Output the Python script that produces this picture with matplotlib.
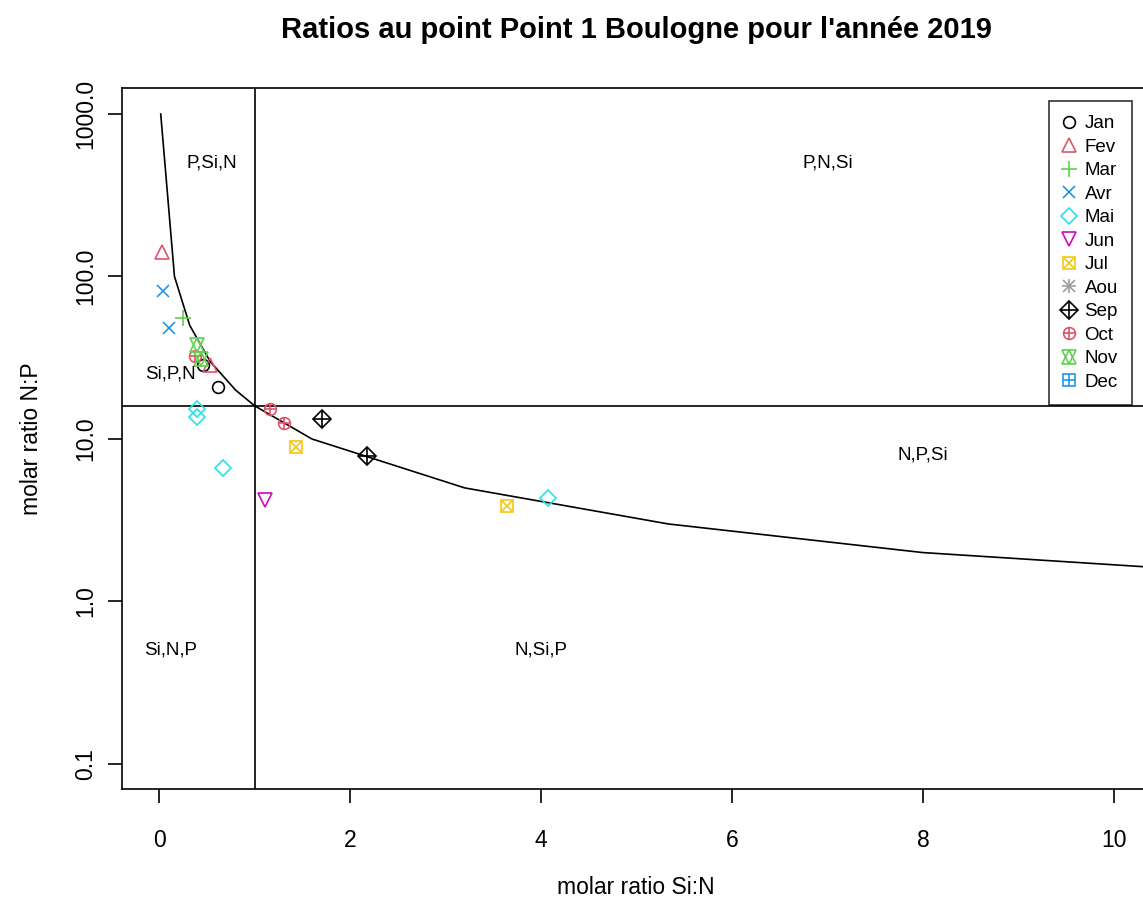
#!/usr/bin/env python3

"""
Ratios N:P vs Si:N, Point 1 Boulogne, 2019
"""

import matplotlib
matplotlib.use("Agg")
import matplotlib.pyplot as plt
from matplotlib.legend_handler import HandlerTuple

plt.rcParams['font.family'] = ['Liberation Sans', 'DejaVu Sans']

# data: Si:N (x) and N:P (y) per month
months = ["Jan", "Fev", "Mar", "Avr", "Mai", "Jun",
          "Jul", "Aou", "Sep", "Oct", "Nov", "Dec"]
jan_x, jan_y = [0.46, 0.62], [28.6, 20.9]
fev_x, fev_y = [0.03, 0.53], [142.0, 28.6]
mar_x, mar_y = [0.25], [55.7]
avr_x, avr_y = [0.04, 0.10], [81.6, 48.3]
mai_x, mai_y = [0.40, 0.40, 0.67, 4.07], [15.3, 13.7, 6.6, 4.33]
jun_x, jun_y = [1.11], [4.2]
jul_x, jul_y = [1.43, 3.64], [8.9, 3.86]
aou_x, aou_y = [], []
sep_x, sep_y = [1.71, 2.18], [13.3, 7.85]
oct_x, oct_y = [0.38, 1.16, 1.31], [32.5, 15.3, 12.6]
nov_x, nov_y = [0.40, 0.44], [37.9, 31.1]
dec_x, dec_y = [], []

all_x = [jan_x, fev_x, mar_x, avr_x, mai_x, jun_x,
         jul_x, aou_x, sep_x, oct_x, nov_x, dec_x]
all_y = [jan_y, fev_y, mar_y, avr_y, mai_y, jun_y,
         jul_y, aou_y, sep_y, oct_y, nov_y, dec_y]

# Redfield limits
redfield_np = 16
redfield_sin = 1
# Si:P = 16 curve, drawn through these N:P values
curve_np = [1000, 100, 50, 30, 20, 16, 10, 5, 3, 2, 1]
curve_sin = [16 / v for v in curve_np]

# region labels
zone_labels = ["P,Si,N", "P,N,Si", "Si,P,N", "N,P,Si", "Si,N,P", "N,Si,P"]
zone_x = [0.55, 7.0, 0.12, 8.0, 0.12, 4.0]
zone_y = [500, 500, 25, 8, 0.5, 0.5]

# R default palette + pch 1..12
palette = ["black", "#DF536B", "#61D04F", "#2297E6", "#28E2E5", "#CD0BBC",
           "#F5C710", "#9E9E9E"]
symbols = [
    [("o", 8.5)],
    [("^", 10)],
    [("+", 11)],
    [("x", 9)],
    [("D", 8)],
    [("v", 10)],
    [("s", 8), ("x", 7)],
    [("+", 10), ("x", 8)],
    [("D", 9), ("+", 11)],
    [("o", 8.5), ("+", 8.5)],
    [("^", 10), ("v", 10)],
    [("s", 8), ("+", 8)],
]

fig = plt.figure(figsize=(11.43, 9.05), dpi=100)
ax = fig.add_axes([0.1067, 0.1282, 0.8995, 0.7746])

ax.plot(curve_sin, curve_np, color="black", lw=1.2)
ax.axhline(redfield_np, color="black", lw=1.2)
ax.axvline(redfield_sin, color="black", lw=1.2)

handles = []
for i, m in enumerate(months):
    col = palette[i % 8]
    parts = []
    for mk, ms in symbols[i]:
        h, = ax.plot(all_x[i], all_y[i], ls="none", marker=mk, ms=ms,
                     mfc="none", mec=col, mew=1.2)
        parts.append(h)
    handles.append(tuple(parts))

for t, x, y in zip(zone_labels, zone_x, zone_y):
    ax.text(x, y, t, fontsize=13.5, ha="center", va="center")

ax.set_yscale("log")
ax.set_xlim(-0.39, 10.38)
ax.set_ylim(0.0702, 1445)
ax.set_xticks([0, 2, 4, 6, 8, 10])
ax.set_yticks([0.1, 1, 10, 100, 1000])
ax.set_yticklabels(["0.1", "1.0", "10.0", "100.0", "1000.0"],
                   rotation=90, va="center")
ax.minorticks_off()
ax.tick_params(length=10, width=1.2, labelsize=16.5, pad=19)
ax.tick_params(axis="y", pad=8)
for s in ax.spines.values():
    s.set_linewidth(1.2)

ax.set_xlabel("molar ratio Si:N", fontsize=16.5, labelpad=17)
ax.set_ylabel("molar ratio N:P", fontsize=16.5, labelpad=22)
fig.text(636 / 1143, 1 - 30 / 905,
         "Ratios au point Point 1 Boulogne pour l'année 2019",
         fontsize=21, fontweight="bold", ha="center", va="center")

leg = ax.legend(handles, months, loc="upper right",
                bbox_to_anchor=(1132 / 1143, 1 - 101 / 905),
                bbox_transform=fig.transFigure, borderaxespad=0,
                handler_map={tuple: HandlerTuple(ndivide=1)},
                fontsize=13.5, frameon=True, fancybox=False,
                edgecolor="black", handlelength=0.6, handletextpad=0.55,
                labelspacing=0.34, borderpad=0.75)
leg.get_frame().set_linewidth(1.2)

fig.savefig("out.png", dpi=100)
plt.close(fig)
